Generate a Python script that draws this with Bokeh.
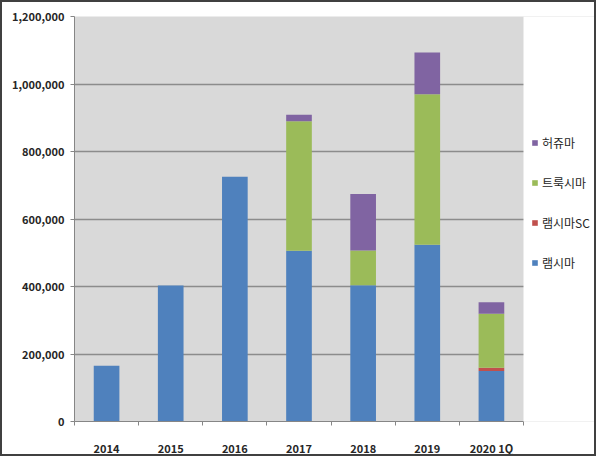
from bokeh.plotting import figure
from bokeh.models import ColumnDataSource, FixedTicker, NumeralTickFormatter, Legend, Range1d, BoxAnnotation
from bokeh.embed import file_html
from bokeh.resources import INLINE

categories = ["2014", "2015", "2016", "2017", "2018", "2019", "2020 1Q"]
series = ["램시마", "램시마SC", "트룩시마", "허쥬마"]
remsima = [165000, 403000, 725000, 506000, 404000, 524000, 150000]
remsima_sc = [0, 0, 0, 0, 0, 0, 9000]
truxima = [0, 0, 0, 384000, 103000, 446000, 160000]
herzuma = [0, 0, 0, 19000, 167000, 123000, 34000]
colors = ["#4F81BD", "#C0504D", "#9BBB59", "#8064A2"]
y_ticks = [0, 200000, 400000, 600000, 800000, 1000000, 1200000]

n = len(categories)
xs = [i + 0.5 for i in range(n)]
source = ColumnDataSource(dict(x=xs, s0=remsima, s1=remsima_sc, s2=truxima, s3=herzuma))

# frame spans the plot area (449 px) plus the legend strip to its right
W, H = 596, 456
left_b, right_b = 72, 0
frame_w = W - left_b - right_b
x_end = n * frame_w / 449.0

p = figure(width=W, height=H, output_backend="svg", toolbar_location=None,
           x_range=Range1d(0, x_end), y_range=Range1d(0, 1200000),
           min_border_left=left_b, min_border_right=right_b, min_border_top=14, min_border_bottom=35,
           background_fill_color="#D9D9D9", border_fill_color="white",
           outline_line_color=None,
           styles={"border": "2px solid #404040"})

renderers = p.vbar_stack(["s0", "s1", "s2", "s3"], x="x", width=0.4, color=colors,
                         line_color=None, source=source)

# axes
p.xaxis.bounds = (0, n)
p.xaxis.ticker = FixedTicker(ticks=xs, minor_ticks=list(range(n + 1)))
p.xaxis.major_label_overrides = {x: c for x, c in zip(xs, categories)}
p.xaxis.major_tick_line_color = None
p.xaxis.minor_tick_line_color = "#868686"
p.xaxis.minor_tick_out = 4
p.xaxis.minor_tick_in = 0
p.xaxis.major_label_standoff = 12
p.yaxis.ticker = FixedTicker(ticks=y_ticks)
p.yaxis.formatter = NumeralTickFormatter(format="0,0")
p.yaxis.major_tick_out = 4
p.yaxis.major_tick_in = 0
p.yaxis.minor_tick_line_color = None
p.yaxis.major_label_standoff = 6
p.yaxis.major_tick_line_color = "#868686"
for ax in (p.xaxis[0], p.yaxis[0]):
    ax.axis_line_color = "#868686"
    ax.axis_line_width = 1
    ax.major_label_text_font = "Noto Sans CJK KR"
    ax.major_label_text_font_size = "11px"
    ax.major_label_text_font_style = "bold"
    ax.major_label_text_color = "#262626"

p.xgrid.grid_line_color = None
p.ygrid.ticker = FixedTicker(ticks=y_ticks)
p.ygrid.grid_line_color = "#8C8C8C"
p.ygrid.grid_line_width = 1.5

# white strip to the right of the plot area, where the legend sits
p.add_layout(BoxAnnotation(left=n, fill_color="white", fill_alpha=1.0, line_color=None))

items = [(series[i], [renderers[i]]) for i in range(4)][::-1]
legend = Legend(items=items, location=(457, 149), orientation="vertical",
                glyph_width=7, glyph_height=7, label_height=20, spacing=20,
                label_standoff=4, padding=0, margin=0,
                background_fill_alpha=0, border_line_color=None,
                label_text_font="Noto Sans CJK KR", label_text_font_size="12px",
                label_text_color="#262626")
p.add_layout(legend, "center")

open("out.html", "w").write(file_html(p, INLINE))
